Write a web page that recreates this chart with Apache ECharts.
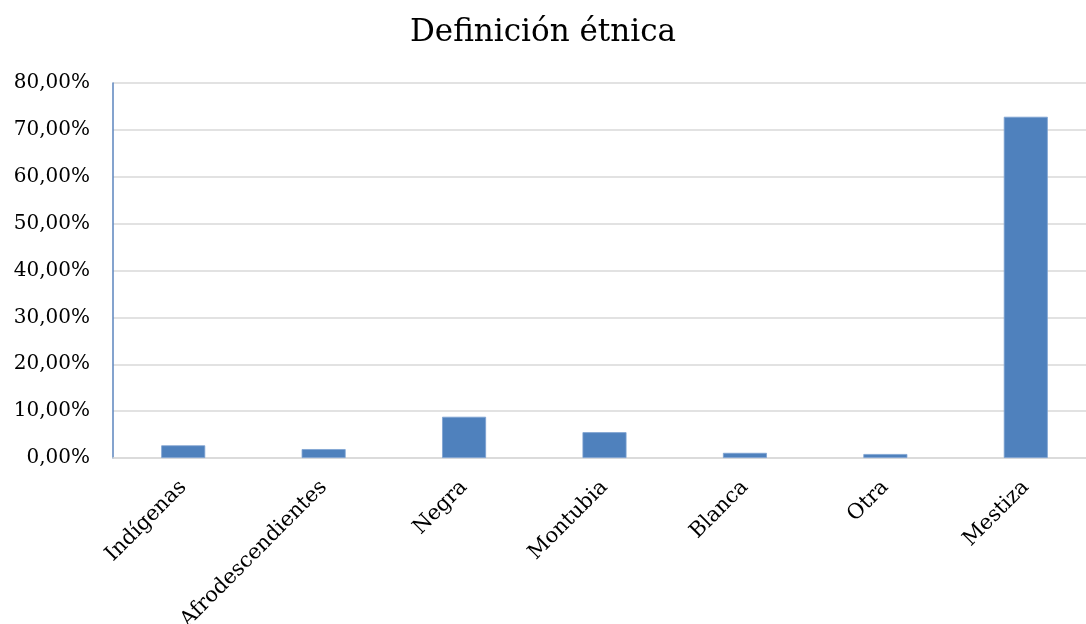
<!DOCTYPE html>
<html>
<head>
<meta charset="utf-8">
<script src="https://cdn.jsdelivr.net/npm/echarts@6/dist/echarts.min.js"></script>
<style>
  html, body { margin: 0; padding: 0; background: #ffffff; }
  #chart { width: 1086px; height: 624px; }
</style>
</head>
<body>
<div id="chart"></div>
<script>
// Ethnic self-identification, share of respondents (%)
const categories = ['Indígenas', 'Afrodescendientes', 'Negra', 'Montubia', 'Blanca', 'Otra', 'Mestiza'];
const shares = [2.7, 1.9, 8.8, 5.5, 1.1, 0.85, 72.8];
const chartTitle = 'Definición étnica';

const serif = "'DejaVu Serif', 'Liberation Serif', serif";

const chart = echarts.init(document.getElementById('chart'));
chart.setOption({
  animation: false,
  backgroundColor: '#ffffff',
  title: {
    text: chartTitle,
    left: 'center',
    top: 12,
    textStyle: { fontFamily: serif, fontWeight: 'normal', fontSize: 31, color: '#000000' }
  },
  grid: {
    left: 113, right: -10, top: 83, bottom: 166,
    containLabel: false,
    outerBoundsMode: 'none'
  },
  xAxis: {
    type: 'category',
    data: categories,
    axisLine: { lineStyle: { color: '#d9d9d9', width: 1.5 } },
    axisTick: { show: false },
    axisLabel: {
      rotate: 45,
      margin: 26,
      interval: 0,
      fontFamily: serif,
      fontSize: 21,
      color: '#000000'
    }
  },
  yAxis: {
    type: 'value',
    min: 0,
    max: 80,
    interval: 10,
    axisLine: { show: true, lineStyle: { color: '#5b85be', width: 1.5 } },
    axisTick: { show: false },
    splitLine: { lineStyle: { color: '#d9d9d9', width: 1.5 } },
    axisLabel: {
      margin: 23,
      fontFamily: serif,
      fontSize: 20,
      color: '#000000',
      formatter: v => v.toFixed(2).replace('.', ',') + '%'
    }
  },
  series: [{
    type: 'bar',
    data: shares,
    barWidth: 44,
    itemStyle: { color: '#4f81bd', borderColor: '#7ea2d2', borderWidth: 0.8 }
  }]
});
</script>
</body>
</html>
